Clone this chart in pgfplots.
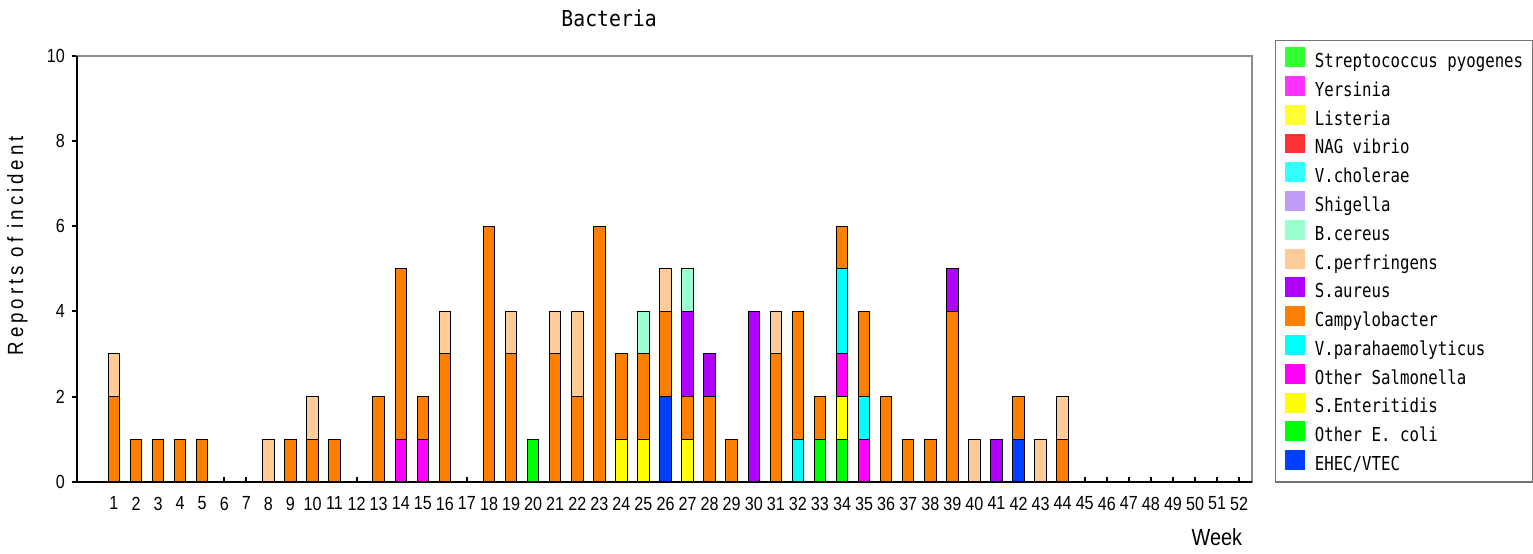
\documentclass[border=0pt]{standalone}
\usepackage{fontspec}
\setmainfont{Liberation Sans}[FakeStretch=0.85]
\newfontfamily\monofont{DejaVu Sans Mono}[FakeStretch=0.82]
\newfontfamily\titlefont{DejaVu Sans Mono}[FakeStretch=0.9]
\newfontfamily\spacedfont{Liberation Sans}[FakeStretch=0.85,LetterSpace=18]
\usepackage{pgfplots}
\usepackage{pgfplotstable}
\pgfplotsset{compat=1.18}

\definecolor{cEHEC}{HTML}{0040FF}
\definecolor{cEcoli}{HTML}{00FF00}
\definecolor{cSEnt}{HTML}{FFFF00}
\definecolor{cOSal}{HTML}{FF00FF}
\definecolor{cVpar}{HTML}{00FFFF}
\definecolor{cCamp}{HTML}{FF8000}
\definecolor{cSaur}{HTML}{B000FF}
\definecolor{cCper}{HTML}{FFCC99}
\definecolor{cBcer}{HTML}{99FFCC}
\definecolor{cShig}{HTML}{C09CF8}
\definecolor{cVchol}{HTML}{33FFFF}
\definecolor{cNAG}{HTML}{FF3333}
\definecolor{cList}{HTML}{FFFF33}
\definecolor{cYers}{HTML}{FF33FF}
\definecolor{cStrep}{HTML}{33FF33}

\pgfplotstableread{
week EHEC Ecoli SEnt OSal Vpar Camp Saur Cper Bcer
1  0 0 0 0 0 2 0 1 0
2  0 0 0 0 0 1 0 0 0
3  0 0 0 0 0 1 0 0 0
4  0 0 0 0 0 1 0 0 0
5  0 0 0 0 0 1 0 0 0
6  0 0 0 0 0 0 0 0 0
7  0 0 0 0 0 0 0 0 0
8  0 0 0 0 0 0 0 1 0
9  0 0 0 0 0 1 0 0 0
10 0 0 0 0 0 1 0 1 0
11 0 0 0 0 0 1 0 0 0
12 0 0 0 0 0 0 0 0 0
13 0 0 0 0 0 2 0 0 0
14 0 0 0 1 0 4 0 0 0
15 0 0 0 1 0 1 0 0 0
16 0 0 0 0 0 3 0 1 0
17 0 0 0 0 0 0 0 0 0
18 0 0 0 0 0 6 0 0 0
19 0 0 0 0 0 3 0 1 0
20 0 1 0 0 0 0 0 0 0
21 0 0 0 0 0 3 0 1 0
22 0 0 0 0 0 2 0 2 0
23 0 0 0 0 0 6 0 0 0
24 0 0 1 0 0 2 0 0 0
25 0 0 1 0 0 2 0 0 1
26 2 0 0 0 0 2 0 1 0
27 0 0 1 0 0 1 2 0 1
28 0 0 0 0 0 2 1 0 0
29 0 0 0 0 0 1 0 0 0
30 0 0 0 0 0 0 4 0 0
31 0 0 0 0 0 3 0 1 0
32 0 0 0 0 1 3 0 0 0
33 0 1 0 0 0 1 0 0 0
34 0 1 1 1 2 1 0 0 0
35 0 0 0 1 1 2 0 0 0
36 0 0 0 0 0 2 0 0 0
37 0 0 0 0 0 1 0 0 0
38 0 0 0 0 0 1 0 0 0
39 0 0 0 0 0 4 1 0 0
40 0 0 0 0 0 0 0 1 0
41 0 0 0 0 0 0 1 0 0
42 1 0 0 0 0 1 0 0 0
43 0 0 0 0 0 0 0 1 0
44 0 0 0 0 0 1 0 1 0
45 0 0 0 0 0 0 0 0 0
46 0 0 0 0 0 0 0 0 0
47 0 0 0 0 0 0 0 0 0
48 0 0 0 0 0 0 0 0 0
49 0 0 0 0 0 0 0 0 0
50 0 0 0 0 0 0 0 0 0
51 0 0 0 0 0 0 0 0 0
52 0 0 0 0 0 0 0 0 0
}\datatable

\pgfplotsset{sq/.style={legend image code/.code={\fill[##1,draw=none] (0pt,-2.3pt) rectangle (10pt,7.7pt);}}}

\begin{document}
\begin{tikzpicture}
\useasboundingbox (-38.5pt,-36pt) rectangle (728.5pt,241pt);
\begin{axis}[
  name=ax,
  scale only axis, width=588pt, height=213pt,
  ybar stacked, bar width=0.52,
  xmin=-0.676, xmax=52.59, ymin=0, ymax=10,
  xtick={1,...,52}, ytick={0,2,...,10},
  xtick pos=bottom, ytick pos=left,
  major tick length=2.5pt,
  tick style={black, line width=1pt},
  xtick align=inside, ytick align=outside,
  axis line style={draw=black!45, line width=1pt},
  tick label style={font=\fontsize{9.5}{11}\selectfont, /pgf/number format/assume math mode=true},
  x tick label style={yshift=-4pt},
  title={\titlefont Bacteria},
  title style={at={(0.4528,1.0685)}, anchor=base, yshift=-6pt, font=\fontsize{11}{13}\selectfont},
  xlabel={Week},
  xlabel style={at={(0.970,-0.1502)}, anchor=base, font=\fontsize{11.7}{13}\selectfont},
  ylabel={\spacedfont Reports of incident},
  ylabel style={at={(-0.0459,0.554)}, anchor=base, font=\fontsize{11}{12}\selectfont},
  legend cell align=left,
  reverse legend,
  legend style={at={(1.0196,1.0376)}, anchor=north west, draw=black!55, line width=0.6pt,
    inner xsep=4.5pt, inner ysep=3.3pt, row sep=1.7pt,
    font=\monofont\fontsize{9.6}{11}\selectfont,
    nodes={inner sep=0pt, text height=7.5pt, text depth=2.5pt},
    /tikz/every odd column/.style={column sep=5pt}},
  every axis plot/.append style={draw=black, line width=0.5pt},
]
\addplot[fill=cEHEC, sq] table[x=week, y=EHEC] {\datatable};
\addlegendentry{EHEC/VTEC}
\addplot[fill=cEcoli, sq] table[x=week, y=Ecoli] {\datatable};
\addlegendentry{Other E. coli}
\addplot[fill=cSEnt, sq] table[x=week, y=SEnt] {\datatable};
\addlegendentry{S.Enteritidis}
\addplot[fill=cOSal, sq] table[x=week, y=OSal] {\datatable};
\addlegendentry{Other Salmonella}
\addplot[fill=cVpar, sq] table[x=week, y=Vpar] {\datatable};
\addlegendentry{V.parahaemolyticus}
\addplot[fill=cCamp, sq] table[x=week, y=Camp] {\datatable};
\addlegendentry{Campylobacter}
\addplot[fill=cSaur, sq] table[x=week, y=Saur] {\datatable};
\addlegendentry{S.aureus}
\addplot[fill=cCper, sq] table[x=week, y=Cper] {\datatable};
\addlegendentry{C.perfringens}
\addplot[fill=cBcer, sq] table[x=week, y=Bcer] {\datatable};
\addlegendentry{B.cereus}
\addlegendimage{fill=cShig, draw=none, sq}
\addlegendentry{Shigella}
\addlegendimage{fill=cVchol, draw=none, sq}
\addlegendentry{V.cholerae}
\addlegendimage{fill=cNAG, draw=none, sq}
\addlegendentry{NAG vibrio}
\addlegendimage{fill=cList, draw=none, sq}
\addlegendentry{Listeria}
\addlegendimage{fill=cYers, draw=none, sq}
\addlegendentry{Yersinia}
\addlegendimage{fill=cStrep, draw=none, sq}
\addlegendentry{Streptococcus pyogenes}
\end{axis}
\draw[black, line width=1pt] (ax.north west) -- (ax.south west) -- (ax.south east);
\end{tikzpicture}
\end{document}
